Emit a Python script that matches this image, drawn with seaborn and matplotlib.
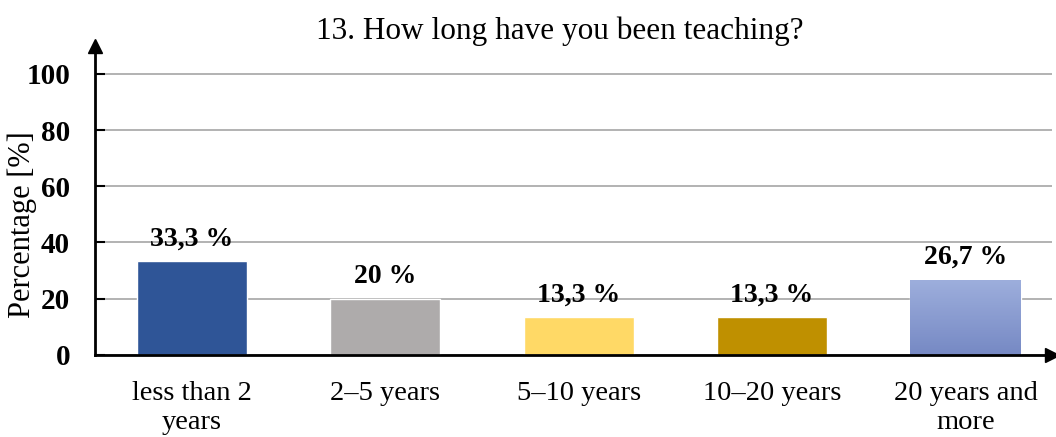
import numpy as np
import pandas as pd
import seaborn as sns
import matplotlib.pyplot as plt
from matplotlib.colors import LinearSegmentedColormap

# survey answers, question 13
categories = ["less than 2\nyears", "2–5 years", "5–10 years", "10–20 years", "20 years and\nmore"]
percent = [33.3, 20.0, 13.3, 13.3, 26.7]
value_labels = ["33,3 %", "20 %", "13,3 %", "13,3 %", "26,7 %"]
bar_colors = ["#2F5597", "#AEABAB", "#FFD966", "#BF9000", "#8C9FD6"]

sns.set_theme(style="white")
plt.rcParams['font.family'] = ['Liberation Serif', 'DejaVu Serif']
plt.rcParams['text.color'] = 'black'
plt.rcParams['axes.labelcolor'] = 'black'
plt.rcParams['xtick.color'] = 'black'
plt.rcParams['ytick.color'] = 'black'

df = pd.DataFrame({"cat": categories, "pct": percent})

fig = plt.figure(figsize=(10.56, 4.37), dpi=100)
ax = fig.add_axes([0.09, 0.188, 0.906, 0.707])

sns.barplot(data=df, x="cat", y="pct", hue="cat", palette=bar_colors,
            legend=False, width=0.57, saturation=1, ax=ax, zorder=3)

# gradient on the last bar (light top -> darker bottom)
last = ax.patches[-1]
x0, y0 = last.get_x(), last.get_y()
w, h = last.get_width(), last.get_height()
grad = np.linspace(0, 1, 100).reshape(-1, 1)
cmap = LinearSegmentedColormap.from_list("g", ["#7689C4", "#9DAEDC"])
im = ax.imshow(grad, cmap=cmap, extent=[x0, x0 + w, y0, y0 + h], origin="lower",
               aspect="auto", zorder=3.5)
im.set_clip_path(last)

for i, (p, lab) in enumerate(zip(percent, value_labels)):
    ax.annotate(lab, (i, p), xytext=(0, 7), textcoords="offset points",
                ha="center", va="bottom", fontsize=20, fontweight="bold")

ax.set_xlim(-0.5, 4.446)
ax.set_ylim(0, 110)
ax.set_yticks([0, 20, 40, 60, 80, 100])
ax.yaxis.grid(True, color="#A6A6A6", linewidth=1.2, zorder=0)
ax.set_axisbelow(True)

for s in ["top", "right"]:
    ax.spines[s].set_visible(False)
for s in ["left", "bottom"]:
    ax.spines[s].set_color("black")
    ax.spines[s].set_linewidth(2)
    ax.spines[s].set_zorder(5)

ax.plot(0, 1, marker="^", color="black", markersize=10, transform=ax.transAxes,
        clip_on=False, zorder=6)
ax.plot(1, 0, marker=">", color="black", markersize=10, transform=ax.transAxes,
        clip_on=False, zorder=6)

ax.tick_params(axis="y", direction="in", length=7, width=1.5, color="black",
               labelsize=21, pad=18, left=True)
ax.tick_params(axis="x", length=0, labelsize=20.5, pad=19)
for t in ax.get_yticklabels():
    t.set_fontweight("bold")
for t in ax.get_xticklabels():
    t.set_linespacing(1.2)

ax.set_xlabel("")
ax.set_ylabel("Percentage [%]", fontsize=22)
ax.yaxis.set_label_coords(-0.061, 0.42)
ax.set_title("13. How long have you been teaching?", fontsize=22.5, pad=5, x=0.486)

fig.savefig("out.png", dpi=100)
